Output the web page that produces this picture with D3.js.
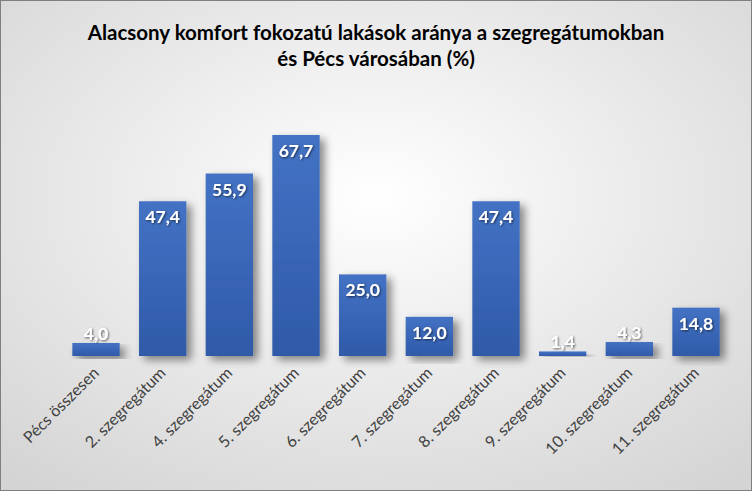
<!DOCTYPE html>
<html><head><meta charset="utf-8">
<script src="https://cdn.jsdelivr.net/npm/d3@7"></script>
<style>body{margin:0;background:#fff}</style>
</head><body>
<svg width="752" height="491"></svg>
<script>
var categories = ["Pécs összesen", "2. szegregátum", "4. szegregátum", "5. szegregátum", "6. szegregátum",
  "7. szegregátum", "8. szegregátum", "9. szegregátum", "10. szegregátum", "11. szegregátum"];
var values = [4.0, 47.4, 55.9, 67.7, 25.0, 12.0, 47.4, 1.4, 4.3, 14.8];

var svg = d3.select("svg");
var font = "Lato, 'Open Sans', sans-serif";
var defs = svg.append("defs");

var bg = defs.append("radialGradient").attr("id", "bg").attr("cx", "50%").attr("cy", "40%").attr("r", "75%");
bg.append("stop").attr("offset", "0%").attr("stop-color", "#ffffff");
bg.append("stop").attr("offset", "100%").attr("stop-color", "#d4d4d4");

var bar = defs.append("linearGradient").attr("id", "bar").attr("x1", 0).attr("x2", 0).attr("y1", 0).attr("y2", 1);
bar.append("stop").attr("offset", "0%").attr("stop-color", "#4472c4");
bar.append("stop").attr("offset", "100%").attr("stop-color", "#2f5aa8");

var sh = defs.append("filter").attr("id", "sh").attr("x", "-20%").attr("y", "-20%").attr("width", "160%").attr("height", "140%");
sh.append("feGaussianBlur").attr("in", "SourceAlpha").attr("stdDeviation", 4);
sh.append("feOffset").attr("dx", 5).attr("dy", 4).attr("result", "b");
sh.append("feComponentTransfer").append("feFuncA").attr("type", "linear").attr("slope", 0.45);
var m = sh.append("feMerge");
m.append("feMergeNode");
m.append("feMergeNode").attr("in", "SourceGraphic");

var ts = defs.append("filter").attr("id", "ts");
ts.append("feDropShadow").attr("dx", 1).attr("dy", 1).attr("stdDeviation", 0.8).attr("flood-color", "#000").attr("flood-opacity", 0.6);

svg.append("rect").attr("x", 0.5).attr("y", 0.5).attr("width", 751).attr("height", 490)
  .attr("fill", "url(#bg)").attr("stroke", "#7f7f7f");

svg.append("text").attr("x", 376).attr("y", 40).attr("text-anchor", "middle")
  .attr("font-family", font).attr("font-weight", "bold").attr("font-size", 20.5).attr("fill", "#000")
  .text("Alacsony komfort fokozatú lakások aránya a szegregátumokban");
svg.append("text").attr("x", 376).attr("y", 66).attr("text-anchor", "middle")
  .attr("font-family", font).attr("font-weight", "bold").attr("font-size", 20.5).attr("fill", "#000")
  .text("és Pécs városában (%)");

var x = d3.scaleBand().domain(categories).range([63, 729]).paddingInner(0.29).paddingOuter(0.14);
var baseY = 356;
var y = d3.scaleLinear().domain([0, 67.7]).range([baseY, 135]);

svg.append("g").selectAll("rect").data(values).join("rect")
  .attr("x", function (d, i) { return x(categories[i]); })
  .attr("y", function (d) { return y(d); })
  .attr("width", x.bandwidth())
  .attr("height", function (d) { return baseY - y(d); })
  .attr("fill", "url(#bar)").attr("filter", "url(#sh)");

svg.append("g").selectAll("text").data(values).join("text")
  .attr("x", function (d, i) { return x(categories[i]) + x.bandwidth() / 2; })
  .attr("y", function (d) { return baseY - y(d) < 25 ? y(d) - 3 : y(d) + 22; })
  .attr("text-anchor", "middle").attr("font-family", font).attr("font-weight", "bold")
  .attr("font-size", 17.5).attr("fill", "#fff").attr("filter", "url(#ts)")
  .text(function (d) { return d.toFixed(1).replace(".", ","); });

var axis = d3.axisBottom(x).tickSize(0).tickPadding(0);
var ax = svg.append("g").attr("transform", "translate(0," + (baseY + 14) + ")").call(axis);
ax.select(".domain").remove();
ax.selectAll("text")
  .attr("font-family", font).attr("font-size", 16).attr("fill", "#404040")
  .attr("text-anchor", "end").attr("dy", "0.35em")
  .attr("transform", "rotate(-45)");
</script>
</body></html>
